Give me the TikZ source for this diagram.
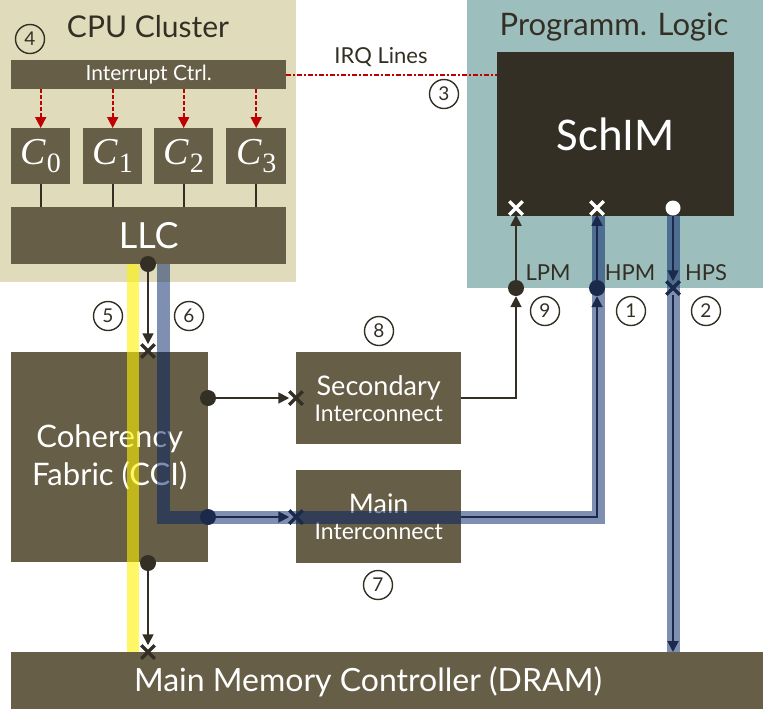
\documentclass[tikz,border=0pt]{standalone}
\usepackage{fontspec}
\setmainfont{Lato}
\newfontfamily\cfont{Carlito}
\newfontfamily\mfont{Liberation Serif}
\usetikzlibrary{arrows.meta,shapes.misc}
\definecolor{beige}{HTML}{E0DCBB}
\definecolor{teal}{HTML}{9CBFBE}
\definecolor{boxc}{HTML}{665E46}
\definecolor{dark}{HTML}{332F25}
\definecolor{navyl}{HTML}{1B2A4A}
\definecolor{navyb}{HTML}{001F64}
\definecolor{irqred}{HTML}{C00000}
\newcommand{\fs}[1]{\fontsize{#1}{#1}\selectfont}
\newcommand{\core}[1]{{\mfont\fs{38}\itshape C\kern1pt\raisebox{-8pt}{\upshape\fs{28}#1}}}
\tikzset{
  box/.style={fill=boxc, text=white, inner sep=0pt, anchor=north west, align=center},
  title/.style={text=dark, inner sep=0pt},
  num/.style={circle, draw=dark, line width=1.4pt, minimum size=29pt, inner sep=0pt, font=\fs{19}, text=dark},
  dot/.style={circle, fill=dark, minimum size=16pt, inner sep=0pt},
  ndot/.style={circle, fill=navyl, minimum size=16pt, inner sep=0pt},
  wdot/.style={circle, fill=white, minimum size=15pt, inner sep=0pt},
  xm/.style={cross out, draw=dark, line width=3.5pt, minimum size=10pt, inner sep=0pt},
  nxm/.style={xm, draw=navyl},
  wxm/.style={xm, draw=white},
  arr/.style={draw=dark, line width=1.8pt, -{Triangle[length=11pt,width=11pt]}},
  navyarr/.style={arr, draw=navyl, -{Triangle[length=11pt,width=11pt,fill=navyl]}},
  plain/.style={draw=dark, line width=1.8pt},
  redarr/.style={draw=irqred, line width=2pt, dash pattern=on 4pt off 2pt, -{Triangle[length=11pt,width=11pt,fill=irqred]}},
  irqline/.style={draw=irqred, line width=2pt, dash pattern=on 5pt off 2pt on 2pt off 2pt},
  band/.style={line width=13pt, draw=navyb, draw opacity=0.5},
  yband/.style={line width=12pt, draw=yellow, draw opacity=0.6},
}
\begin{document}
\begin{tikzpicture}[x=1pt,y=-1pt]
\useasboundingbox (0,0) rectangle (763,721);
% backgrounds
\node[fill=beige, inner sep=0pt, anchor=north west, minimum width=296pt, minimum height=282pt] (cpu) at (0,0) {};
\node[fill=teal, inner sep=0pt, anchor=north west, minimum width=296pt, minimum height=288pt] (pl) at (467,0) {};
\node[title, font=\fs{30}] (cputitle) at (148,27) {CPU Cluster};
\node[title, font=\fs{31}] (pltitle) at (614,27) {Programm. Logic};
% CPU cluster boxes
\node[box, minimum width=275pt, minimum height=29pt, font=\fs{21}] (irq) at (11,60) {Interrupt Ctrl.};
\node[box, minimum width=59pt, minimum height=56pt] (c0) at (11,128) {\core{0}};
\node[box, minimum width=59pt, minimum height=56pt] (c1) at (83,128) {\core{1}};
\node[box, minimum width=59pt, minimum height=56pt] (c2) at (154,128) {\core{2}};
\node[box, minimum width=60pt, minimum height=56pt] (c3) at (226,128) {\core{3}};
\node[box, minimum width=275pt, minimum height=57pt, font=\fs{36}] (llc) at (11,207) {LLC};
% SchIM
\node[fill=dark, text=white, inner sep=0pt, anchor=north west, minimum width=237pt, minimum height=164pt, font=\cfont\fs{47}] (schim) at (497,52) {SchIM};
% lower boxes
\node[box, minimum width=197pt, minimum height=210pt, font=\fs{31}] (cci) at (11,352) {Coherency\\[7pt]Fabric (CCI)};
\node[box, minimum width=165pt, minimum height=92pt] (sec) at (296,352) {\fs{27}Secondary\\[4pt]\fs{23}Interconnect};
\node[box, minimum width=165pt, minimum height=93pt] (main) at (296,470) {\fs{27}Main\\[9pt]\fs{23}Interconnect};
\node[box, minimum width=752pt, minimum height=57pt] (dram) at (11,652) {};
\node[text=white, inner sep=0pt, font=\fs{32}] (dramtext) at (368,682) {Main Memory Controller (DRAM)};
% interrupt lines
\foreach \c in {c0,c1,c2,c3}{
  \draw[redarr] (\c.north |- irq.south) -- (\c.north);
  \draw[plain] (\c.south) -- (\c.south |- llc.north);
}
\draw[irqline] (irq.east) -- (irq.east -| schim.west);
\node[title, font=\fs{22}] (irqlabel) at (381,57) {IRQ Lines};
% bands
\draw[yband] (133,264) -- (133,652);
\draw[band] (163.5,264) -- (163.5,517) -- (598,517) -- (598,216);
\draw[band] (673,216) -- (673,652);
% markers
\node[dot] (dllc) at (148,264) {};
\node[xm] (xcci) at (148,351) {};
\node[dot] (dsec) at (208,398) {};
\node[xm] (xsec) at (296,398) {};
\node[ndot] (dmain) at (208,517) {};
\node[nxm] (xmain) at (296,517) {};
\node[dot] (ddram) at (148,563) {};
\node[xm] (xdram) at (148,652) {};
\node[dot] (dlpm) at (516,288) {};
\node[ndot] (dhpm) at (597,288) {};
\node[nxm] (xhps) at (673,288) {};
\node[wxm] (wlpm) at (516,208) {};
\node[wxm] (whpm) at (597,208) {};
\node[wdot] (whps) at (673,208) {};
% connectors
\draw[arr] (dllc) -- (xcci);
\draw[arr] (dsec) -- (xsec);
\draw[navyarr] (dmain) -- (xmain);
\draw[arr] (ddram) -- (xdram);
\draw[arr] (sec.east) -| (dlpm);
\draw[arr] (dlpm) -- (wlpm);
\draw[navyarr] (main.east) -| (dhpm);
\draw[navyarr] (dhpm) -- (whpm);
\draw[navyarr] (whps) -- (xhps);
\draw[navyarr] (xhps) -- (xhps |- dram.north);
% labels
\node[title, font=\fs{22}] (lpm) at (548,273) {LPM};
\node[title, font=\fs{22}] (hpm) at (630,273) {HPM};
\node[title, font=\fs{22}] (hps) at (706,273) {HPS};
\node[num] (n1) at (631,311) {1};
\node[num] (n2) at (706,311) {2};
\node[num] (n3) at (444,94) {3};
\node[num] (n4) at (30,39) {4};
\node[num] (n5) at (108,316) {5};
\node[num] (n6) at (189,316) {6};
\node[num] (n7) at (378,585) {7};
\node[num] (n8) at (379,331) {8};
\node[num] (n9) at (545,311) {9};
\end{tikzpicture}
\end{document}
